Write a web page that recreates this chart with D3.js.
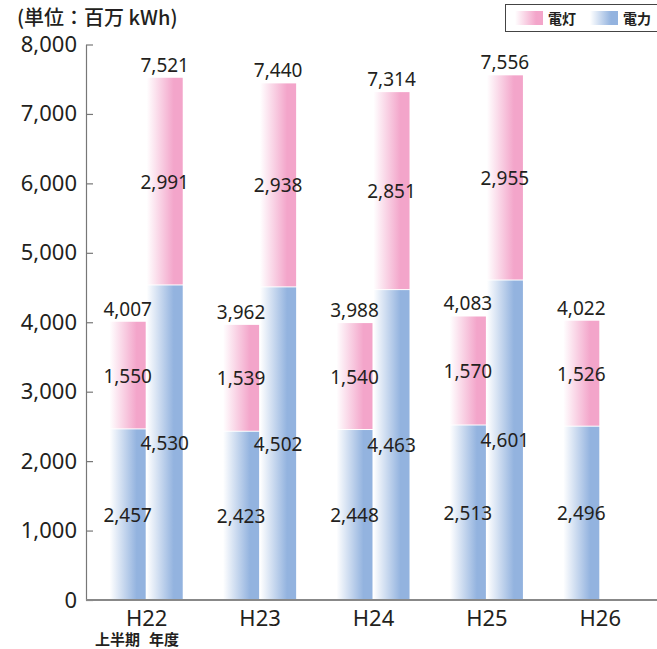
<!DOCTYPE html>
<html>
<head>
<meta charset="utf-8">
<script src="https://cdn.jsdelivr.net/npm/d3@7"></script>
<style>
  body { margin: 0; background: #fff; }
  svg text { font-family: "Noto Sans", "Noto Sans CJK JP", sans-serif; fill: #231f20; }
</style>
</head>
<body>
<div id="chart"></div>
<script>
'use strict';

// fiscal years (H = Heisei)
const years = ['H22', 'H23', 'H24', 'H25', 'H26'];

// first half (上半期) values, million kWh
const halfPower = [2457, 2423, 2448, 2513, 2496];
const halfLight = [1550, 1539, 1540, 1570, 1526];
const halfTotal = [4007, 3962, 3988, 4083, 4022];

// full fiscal year (年度) values; H26 not yet available
const yearPower = [4530, 4502, 4463, 4601];
const yearLight = [2991, 2938, 2851, 2955];
const yearTotal = [7521, 7440, 7314, 7556];

const yTicks = [0, 1000, 2000, 3000, 4000, 5000, 6000, 7000, 8000];

const width = 657, height = 649;
const colors = { light: '#f3a5ca', power: '#93b3df' };

const svg = d3.select('#chart').append('svg')
    .attr('width', width)
    .attr('height', height);

// horizontal gradients, white on the left
const defs = svg.append('defs');
Object.keys(colors).forEach(function (k) {
    let g = defs.append('linearGradient')
        .attr('id', 'grad-' + k)
        .attr('x1', '0%').attr('x2', '100%')
        .attr('y1', '0%').attr('y2', '0%');
    g.append('stop').attr('offset', '0%').attr('stop-color', '#ffffff');
    g.append('stop').attr('offset', '75%').attr('stop-color', colors[k]);
    g.append('stop').attr('offset', '100%').attr('stop-color', colors[k]);
});

const y = d3.scaleLinear().domain([0, 8000]).range([600, 44.5]);
const x = d3.scaleBand().domain(years).range([90, 657])
    .paddingInner(0.347).paddingOuter(0.1735);
const sub = d3.scaleBand().domain(['half', 'year']).range([0, x.bandwidth()]);
const barW = sub.bandwidth() - 1;

// build stacked rows
let rows = [];
years.forEach(function (yr, i) {
    rows.push({ year: yr, kind: 'half', power: halfPower[i], light: halfLight[i], total: halfTotal[i] });
    if (i < yearPower.length) {
        rows.push({ year: yr, kind: 'year', power: yearPower[i], light: yearLight[i], total: yearTotal[i] });
    }
});

const fmt = d3.format(',');
const bars = svg.append('g');
const labelLayer = svg.append('g');

rows.forEach(function (d) {
    let bx = x(d.year) + sub(d.kind);
    let cx = bx + barW / 2;
    // power segment
    bars.append('rect')
        .attr('x', bx)
        .attr('y', y(d.power))
        .attr('width', barW)
        .attr('height', y(0) - y(d.power))
        .attr('fill', 'url(#grad-power)');
    // light segment on top, 1px white gap
    bars.append('rect')
        .attr('x', bx)
        .attr('y', y(d.power + d.light))
        .attr('width', barW)
        .attr('height', y(d.power) - y(d.power + d.light) - 1)
        .attr('fill', 'url(#grad-light)');

    let labels = [
        { v: d.power, ty: (y(0) + y(d.power)) / 2 + 7 },
        { v: d.light, ty: (y(d.power) + y(d.power + d.light)) / 2 + 7 },
        { v: d.total, ty: y(d.total) - 6 }
    ];
    labels.forEach(function (l) {
        labelLayer.append('text')
            .attr('x', cx)
            .attr('y', l.ty)
            .attr('text-anchor', 'middle')
            .style('font-size', '19px')
            .text(fmt(l.v));
    });
});
labelLayer.raise();

// y axis, ticks pointing inward
const yAxis = svg.append('g')
    .attr('transform', 'translate(86,0)')
    .call(d3.axisLeft(y).tickValues(yTicks).tickFormat(fmt)
        .tickSizeInner(-7).tickSizeOuter(0).tickPadding(9));
yAxis.select('.domain').attr('stroke', '#777').attr('stroke-width', 1.2);
yAxis.selectAll('.tick line').attr('stroke', '#777').attr('stroke-width', 1.2);
yAxis.selectAll('.tick text')
    .style('font-size', '22px')
    .attr('fill', '#231f20');

// baseline
svg.append('line')
    .attr('x1', 86).attr('x2', width)
    .attr('y1', y(0)).attr('y2', y(0))
    .attr('stroke', '#888')
    .attr('stroke-width', 2);

// category labels
svg.selectAll('.xLabel').data(years).enter()
    .append('text')
    .attr('class', 'xLabel')
    .attr('x', function (d) { return x(d) + x.bandwidth() / 2; })
    .attr('y', 626)
    .attr('text-anchor', 'middle')
    .style('font-size', '22px')
    .text(function (d) { return d; });

// sub labels under the first group
[['half', '上半期', 95], ['year', '年度', 149]].forEach(function (p) {
    svg.append('text')
        .attr('x', p[2])
        .attr('y', 645)
        .style('font-family', '"Noto Sans CJK JP", sans-serif')
        .style('font-size', '15px')
        .style('font-weight', 'bold')
        .text(p[1]);
});

// unit title
svg.append('text')
    .attr('x', 17)
    .attr('y', 25)
    .style('font-family', '"Noto Sans CJK JP", sans-serif')
    .style('font-size', '20px')
    .style('font-weight', '500')
    .text('(単位：百万 kWh)');

// legend
const legend = svg.append('g');
legend.append('rect')
    .attr('x', 505.5).attr('y', 4.5)
    .attr('width', 170).attr('height', 27)
    .attr('fill', '#fff')
    .attr('stroke', '#444');
[['light', '電灯', 515], ['power', '電力', 590]].forEach(function (p) {
    legend.append('rect')
        .attr('x', p[2]).attr('y', 11)
        .attr('width', 28).attr('height', 14)
        .attr('fill', 'url(#grad-' + p[0] + ')');
    legend.append('text')
        .attr('x', p[2] + 33).attr('y', 24)
        .style('font-family', '"Noto Sans CJK JP", sans-serif')
        .style('font-size', '14px')
        .style('font-weight', 'bold')
        .text(p[1]);
});
</script>
</body>
</html>
